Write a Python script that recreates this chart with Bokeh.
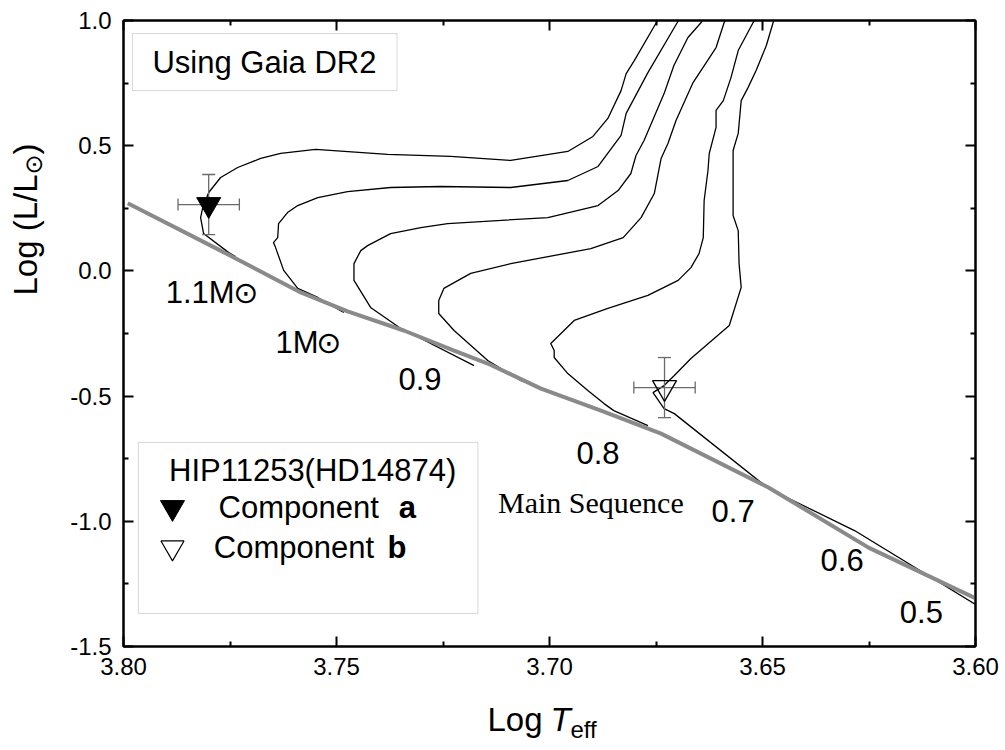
import math
from bokeh.plotting import figure
from bokeh.layouts import row, column
from bokeh.models import (Range1d, FixedTicker, NumeralTickFormatter, LinearAxis,
                          Label, BoxAnnotation, Whisker, ColumnDataSource, TeeHead)
from bokeh.core.properties import value
from bokeh.embed import file_html
from bokeh.resources import INLINE

# ---------------- data ----------------
track_1p1_T = [3.7737, 3.7753, 3.7812, 3.7819, 3.7814, 3.7800, 3.7772, 3.7732, 3.7678, 3.7631, 3.7549,
               3.7380, 3.7232, 3.7091, 3.6957, 3.6898, 3.6863, 3.6832, 3.6820, 3.6801, 3.6749, 3.6745]
track_1p1_L = [0.057, 0.073, 0.149, 0.213, 0.253, 0.313, 0.373, 0.413, 0.449, 0.469, 0.485,
               0.465, 0.457, 0.441, 0.477, 0.537, 0.609, 0.720, 0.788, 0.840, 0.992, 1.008]

track_1p0_T = [3.7483, 3.7544, 3.7591, 3.7624, 3.7643, 3.7648, 3.7638, 3.7636, 3.7615, 3.7591, 3.7544,
               3.7474, 3.7373, 3.7255, 3.7091, 3.6957, 3.6886, 3.6832, 3.6820, 3.6769, 3.6700, 3.6695]
track_1p0_L = [-0.166, -0.106, -0.070, 0.002, 0.093, 0.113, 0.133, 0.189, 0.233, 0.261, 0.293,
               0.317, 0.333, 0.337, 0.333, 0.361, 0.417, 0.541, 0.629, 0.792, 0.992, 1.008]

track_0p9_T = [3.7177, 3.7302, 3.7349, 3.7420, 3.7459, 3.7459, 3.7443, 3.7427, 3.7373, 3.7302, 3.7239,
               3.7004, 3.6886, 3.6839, 3.6809, 3.6797, 3.6778, 3.6731, 3.6708, 3.6675, 3.6644, 3.6638]
track_0p9_L = [-0.378, -0.270, -0.230, -0.146, -0.038, 0.029, 0.081, 0.101, 0.149, 0.173, 0.189,
               0.213, 0.261, 0.321, 0.389, 0.461, 0.521, 0.708, 0.820, 0.932, 0.992, 1.008]

track_0p8_T = [3.6989, 3.7067, 3.7145, 3.7224, 3.7260, 3.7260, 3.7248, 3.7185, 3.7091, 3.6903,
               3.6827, 3.6785, 3.6754, 3.6738, 3.6722, 3.6703, 3.6663, 3.6609, 3.6590, 3.6585]
track_0p8_L = [-0.486, -0.438, -0.358, -0.238, -0.170, -0.118, -0.070, -0.010, 0.029, 0.089,
               0.133, 0.213, 0.309, 0.449, 0.509, 0.601, 0.752, 0.892, 0.992, 1.008]

track_0p7_T = [3.6769, 3.6849, 3.6872, 3.6910, 3.6957, 3.6989, 3.6989, 3.6997, 3.6942, 3.6863, 3.6769,
               3.6698, 3.6668, 3.6649, 3.6639, 3.6637, 3.6628, 3.6625, 3.6609, 3.6609, 3.6592, 3.6574,
               3.6557, 3.6522, 3.6515]
track_0p7_L = [-0.618, -0.558, -0.530, -0.478, -0.410, -0.346, -0.318, -0.290, -0.198, -0.150, -0.098,
               -0.038, 0.013, 0.069, 0.133, 0.281, 0.401, 0.469, 0.573, 0.641, 0.680, 0.772,
               0.880, 0.992, 1.008]

track_0p6_T = [3.5995, 3.6284, 3.6486, 3.6707, 3.6731, 3.6757, 3.6731, 3.6707, 3.6668, 3.6578, 3.6550,
               3.6555, 3.6557, 3.6569, 3.6569, 3.6557, 3.6550, 3.6534, 3.6515, 3.6491, 3.6475, 3.6472]
track_0p6_L = [-1.337, -1.037, -0.869, -0.570, -0.550, -0.486, -0.458, -0.418, -0.350, -0.218, -0.066,
               0.029, 0.161, 0.221, 0.481, 0.549, 0.680, 0.732, 0.800, 0.900, 0.992, 1.008]

ms_T = [3.799, 3.7772, 3.7584, 3.7474, 3.7342, 3.7224, 3.7145, 3.7020, 3.6879, 3.6738, 3.6486, 3.6251, 3.5998]
ms_L = [0.270, 0.081, -0.086, -0.162, -0.238, -0.318, -0.370, -0.470, -0.558, -0.650, -0.865, -1.105, -1.309]

comp_names = ["a", "b"]
comp_T = [3.780, 3.673]
comp_L = [0.265, -0.466]
comp_T_err = [0.0072, 0.0072]
comp_L_err = [0.12, 0.12]

x_major = [3.80, 3.75, 3.70, 3.65, 3.60]
x_minor = [3.775, 3.725, 3.675, 3.625]
y_major = [1.0, 0.5, 0.0, -0.5, -1.0, -1.5]
y_minor = [0.75, 0.25, -0.25, -0.75, -1.25]

mass_labels = ["0.9", "0.8", "0.7", "0.6", "0.5"]

# ---------------- styles / layout sizes ----------------
SANS = "Liberation Sans"
SERIF = "Liberation Serif"
SYM = "DejaVu Sans"
FS = "31px"
TITLE_FS = "33px"

YTITLE_W = 55          # strip holding the y-axis title
MAIN_W = 1000 - YTITLE_W
MAIN_H = 700
XTITLE_H = 44          # strip holding the x-axis title
FRAME_L, FRAME_R, FRAME_T, FRAME_B = 123, 975, 20, 646   # page pixels of the plot frame

# ---------------- main figure ----------------
p = figure(width=MAIN_W, height=MAIN_H, output_backend="svg", toolbar_location=None, title=None,
           x_range=Range1d(3.80, 3.60), y_range=Range1d(-1.5, 1.0),
           min_border_left=FRAME_L - YTITLE_W, min_border_right=1000 - FRAME_R,
           min_border_top=FRAME_T, min_border_bottom=MAIN_H - FRAME_B)
p.grid.visible = False
p.outline_line_color = "black"
p.outline_line_width = 2
p.background_fill_color = "white"
p.border_fill_color = "white"

top_ax = LinearAxis()
right_ax = LinearAxis()
p.add_layout(top_ax, "above")
p.add_layout(right_ax, "right")
bottom_ax = p.below[0]
left_ax = p.left[0]

for ax in [bottom_ax, top_ax]:
    ax.ticker = FixedTicker(ticks=x_major, minor_ticks=x_minor)
    ax.formatter = NumeralTickFormatter(format="0.00")
for ax in [left_ax, right_ax]:
    ax.ticker = FixedTicker(ticks=y_major, minor_ticks=y_minor)
    ax.formatter = NumeralTickFormatter(format="0.0")

for ax in [bottom_ax, left_ax, top_ax, right_ax]:
    ax.axis_line_width = 2
    ax.major_tick_in = 10
    ax.major_tick_out = 0
    ax.minor_tick_in = 5
    ax.minor_tick_out = 0
    ax.major_tick_line_width = 2
    ax.minor_tick_line_width = 2
    ax.major_label_text_font = SANS
    ax.major_label_text_font_size = "24px"
    ax.major_label_text_color = "black"
for ax in [top_ax, right_ax]:
    ax.major_label_text_font_size = "0px"
    ax.major_label_text_color = None
    ax.major_label_standoff = 0
bottom_ax.major_label_standoff = 11
left_ax.major_label_standoff = 12

# ---------------- tracks ----------------
for tT, tL in [(track_1p1_T, track_1p1_L), (track_1p0_T, track_1p0_L), (track_0p9_T, track_0p9_L),
               (track_0p8_T, track_0p8_L), (track_0p7_T, track_0p7_L), (track_0p6_T, track_0p6_L)]:
    p.line(tT, tL, line_color="black", line_width=1.3)

p.line(ms_T, ms_L, line_color="#8a8a8a", line_width=4)

# ---------------- components with error bars ----------------
src = ColumnDataSource(dict(
    T=comp_T, L=comp_L,
    Tlo=[t - e for t, e in zip(comp_T, comp_T_err)], Thi=[t + e for t, e in zip(comp_T, comp_T_err)],
    Llo=[l - e for l, e in zip(comp_L, comp_L_err)], Lhi=[l + e for l, e in zip(comp_L, comp_L_err)],
))
ecol = "#6a6a6a"
p.add_layout(Whisker(source=src, base="T", lower="Llo", upper="Lhi", dimension="height",
                     line_color=ecol, line_width=1.3, level="glyph",
                     lower_head=TeeHead(size=13, line_color=ecol, line_width=1.3),
                     upper_head=TeeHead(size=13, line_color=ecol, line_width=1.3)))
p.add_layout(Whisker(source=src, base="L", lower="Tlo", upper="Thi", dimension="width",
                     line_color=ecol, line_width=1.3, level="glyph",
                     lower_head=TeeHead(size=12, line_color=ecol, line_width=1.3),
                     upper_head=TeeHead(size=12, line_color=ecol, line_width=1.3)))

p.scatter([comp_T[0]], [comp_L[0]], marker="inverted_triangle", size=24,
          fill_color="black", line_color="black", level="overlay")
p.scatter([comp_T[1]], [comp_L[1]], marker="inverted_triangle", size=24,
          fill_alpha=0, line_color="black", line_width=1.3, level="overlay")

# ---------------- text annotations ----------------
def lab(x, y, text, size=FS, font=SANS, align="left", baseline="middle", style="normal"):
    p.add_layout(Label(x=x, y=y, text=text, text_font=font, text_font_size=size,
                       text_align=align, text_baseline=baseline, text_font_style=style,
                       text_color="black"))

# Using Gaia DR2 box
p.add_layout(BoxAnnotation(left=3.7979, right=3.7358, top=0.948, bottom=0.720, level="underlay",
                           fill_color="white", fill_alpha=1, line_color="#7a7a7a", line_width=1))
lab(3.7932, 0.834, "Using Gaia DR2")

# mass labels
lab(3.7901, -0.086, "1.1M", baseline="alphabetic")
lab(3.7713, -0.086, "\u2299", size="30px", font=SYM, align="center")
lab(3.7643, -0.286, "1M", baseline="alphabetic")
lab(3.7518, -0.286, "\u2299", size="30px", font=SYM, align="center")
for t, (x, y) in zip(mass_labels, [(3.7304, -0.430), (3.6886, -0.729), (3.6569, -0.957),
                                   (3.6313, -1.153), (3.6127, -1.364)]):
    lab(x, y, t, align="center")
lab(3.7121, -0.925, "Main Sequence", size="30px", font=SERIF, baseline="alphabetic")

# legend box
p.add_layout(BoxAnnotation(left=3.7965, right=3.7168, top=-0.685, bottom=-1.368, level="underlay",
                           fill_color="white", fill_alpha=1, line_color="#7a7a7a", line_width=1))
lab(3.7556, -0.797, "HIP11253(HD14874)", align="center")
p.scatter([3.7885], [-0.945], marker="inverted_triangle", size=24, fill_color="black", line_color="black")
p.scatter([3.7885], [-1.105], marker="inverted_triangle", size=23, fill_alpha=0,
          line_color="black", line_width=1.2)
lab(3.7777, -0.945, "Component")
lab(3.7354, -0.945, comp_names[0], style="bold")
lab(3.7788, -1.105, "Component")
lab(3.7380, -1.105, comp_names[1], style="bold")

# ---------------- y-axis title strip (page pixel coordinates, y downward) ----------------
ytf = figure(width=YTITLE_W, height=MAIN_H, output_backend="svg", toolbar_location=None, title=None,
             x_range=Range1d(0, YTITLE_W), y_range=Range1d(MAIN_H, 0),
             x_axis_location=None, y_axis_location=None, min_border=0, outline_line_color=None)
ytf.grid.visible = False
ytf.text(x=[25], y=[295], text=["Log (L/L"], angle=math.pi / 2, text_align="left",
         text_baseline="middle", text_font=value(SANS), text_font_size=TITLE_FS, text_color="black")
ytf.text(x=[33], y=[164], text=["\u2299"], angle=math.pi / 2, text_align="center",
         text_baseline="middle", text_font=value(SYM), text_font_size="24px", text_color="black")
ytf.text(x=[25], y=[154], text=[")"], angle=math.pi / 2, text_align="left",
         text_baseline="middle", text_font=value(SANS), text_font_size=TITLE_FS, text_color="black")

# ---------------- x-axis title strip (its frame is aligned with the main frame horizontally) ----------------
xtf = figure(width=MAIN_W, height=XTITLE_H, output_backend="svg", toolbar_location=None, title=None,
             x_range=Range1d(FRAME_L, FRAME_R), y_range=Range1d(MAIN_H + XTITLE_H, MAIN_H),
             x_axis_location=None, y_axis_location=None, min_border=0, outline_line_color=None)
xtf.grid.visible = False
xtf.text(x=[487], y=[719], text=["Log"], text_align="left", text_baseline="middle",
         text_font=value(SANS), text_font_size=TITLE_FS, text_color="black")
xtf.text(x=[550], y=[719], text=["T"], text_align="left", text_baseline="middle",
         text_font=value(SANS), text_font_size=TITLE_FS, text_font_style="italic", text_color="black")
xtf.text(x=[570], y=[729], text=["eff"], text_align="left", text_baseline="middle",
         text_font=value(SANS), text_font_size="24px", text_color="black")

layout = row(ytf, column(p, xtf))
open("out.html", "w").write(file_html(layout, INLINE))
